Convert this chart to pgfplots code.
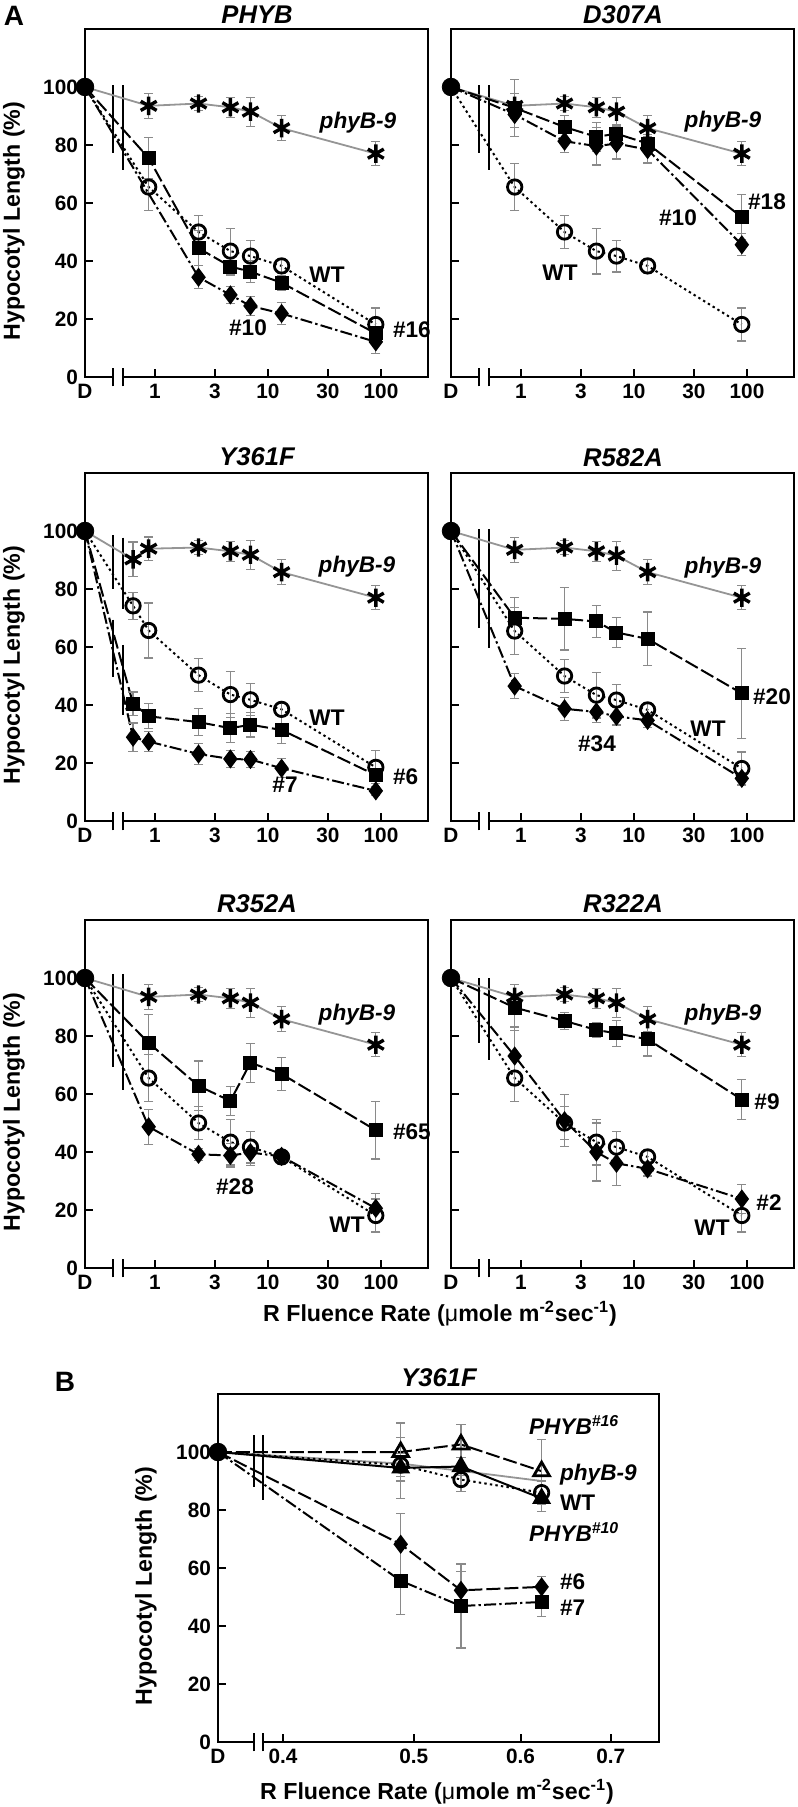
\documentclass[border=0pt]{standalone}
\usepackage{fontspec}
\setmainfont{Liberation Sans}
\usepackage{pgfplots}
\pgfplotsset{compat=1.18}
\usepackage{pgfplotstable}
\definecolor{eg}{HTML}{8A8A8A}
\definecolor{lg}{HTML}{959595}
\newcommand{\tfont}{\bfseries\fontsize{10.4}{11}\selectfont}
\newcommand{\afont}{\bfseries\fontsize{11.3}{13}\selectfont}
\newcommand{\lfont}{\bfseries\fontsize{11.6}{13}\selectfont}
\newcommand{\ttlfont}{\bfseries\itshape\fontsize{12.8}{14}\selectfont}

\pgfplotsset{
 myBase/.style={scale only axis, anchor=north west, height=174pt, ymin=0, ymax=120,
   ytick={0,20,40,60,80,100}, tick align=inside, xtick pos=left, ytick pos=left,
   major tick length=4pt, axis line style={line width=1pt},
   every tick/.style={black,line width=1pt}, tick label style={font=\tfont},
   /pgf/number format/assume math mode=true, clip=false},
 myEb/.style={error bars/.cd, y dir=both, y explicit,
   error bar style={eg, line width=0.6pt, solid},
   error mark options={rotate=90, eg, mark size=2.3pt, line width=0.6pt, solid}},
 myMi/.style={mark indices={2,3,4,5,6,7,8}},
 sphy/.style={lg, line width=0.9pt, mark=asterisk, mark size=4.6pt, mark options={black, line width=1.7pt, solid}, myMi},
 swt/.style={black, line width=1pt, dash pattern=on 1.2pt off 1.6pt, mark=o, mark size=3.6pt, mark options={black, fill=white, line width=1.4pt, solid}, myMi},
 ssq/.style={black, line width=1pt, dash pattern=on 7pt off 2pt, mark=square*, mark size=3pt, mark options={solid}, myMi},
 sdm/.style={black, line width=1pt, dash pattern=on 6pt off 1.6pt on 1.2pt off 1.6pt, mark=diamond*, mark size=4pt, mark options={solid}, myMi},
 sD/.style={only marks, mark=*, mark size=4.4pt, black},
}

% ---------- shared controls ----------
\pgfplotstableread{
x y e
0.2404 100 0
0.88 93.5 4.3
2.43 94.3 2.5
4.65 93.0 3.5
7.0 91.5 5.0
13.2 85.8 4.3
90 77.0 4.2
}\phyctl
\pgfplotstableread{
x y e
0.2404 100 0
0.64 90.2 6.0
0.88 93.9 4.0
2.43 94.3 2.5
4.65 93.0 3.5
7.0 91.8 5.0
13.2 85.8 4.3
90 77.0 4.2
}\phyctlY
\pgfplotstableread{
x y e
0.2404 100 0
0.88 65.5 8.0
2.43 50.0 5.7
4.65 43.4 7.9
7.0 41.7 5.5
13.2 38.3 2.5
90 18.1 5.7
}\wtctl
\pgfplotstableread{
x y e
0.2404 100 0
0.64 74.2 4.6
0.88 65.7 9.5
2.43 50.3 5.7
4.65 43.6 7.9
7.0 41.8 5.5
13.2 38.5 2.5
90 18.5 5.7
}\wtctlY
% ---------- PHYB ----------
\pgfplotstableread{
x y e
0.2404 100 0
0.88 75.5 7.0
2.43 44.4 6.0
4.65 38.1 3.0
7.0 36.3 3.8
13.2 32.5 2.5
90 15.0 2.0
}\phybsq
\pgfplotstableread{
x y e
0.2404 100 0
2.43 34.4 4.0
4.65 28.3 3.0
7.0 24.5 3.3
13.2 21.9 3.8
90 12.1 3.9
}\phybdm
% ---------- D307A ----------
\pgfplotstableread{
x y e
0.2404 100 0
0.88 92.8 9.8
2.43 86.2 4.0
4.65 82.8 5.0
7.0 83.9 3.0
13.2 80.5 3.0
90 55.1 7.7
}\dsq
\pgfplotstableread{
x y e
0.2404 100 0
0.88 90.5 4.5
2.43 81.3 3.8
4.65 79.6 6.5
7.0 80.5 5.3
13.2 78.4 4.6
90 45.6 3.8
}\ddm
% ---------- Y361F ----------
\pgfplotstableread{
x y e
0.2404 100 0
0.64 40.5 4.0
0.88 36.1 4.3
2.43 34.1 4.7
4.65 32.0 5.0
7.0 33.2 4.2
13.2 31.4 4.6
90 15.8 2.0
}\ysq
\pgfplotstableread{
x y e
0.2404 100 0
0.64 28.9 4.9
0.88 27.4 3.5
2.43 23.1 3.5
4.65 21.4 3.0
7.0 21.2 2.8
13.2 18.2 3.3
90 10.4 1.5
}\ydm
% ---------- R582A ----------
\pgfplotstableread{
x y e
0.2404 100 0
0.88 70.1 7.0
2.43 69.7 10.7
4.65 68.8 5.5
7.0 65.0 5.2
13.2 62.8 9.3
90 44.0 15.5
}\rasq
\pgfplotstableread{
x y e
0.2404 100 0
0.88 46.5 4.3
2.43 38.7 4.0
4.65 37.6 3.5
7.0 36.1 3.0
13.2 34.7 2.5
90 14.7 2.0
}\radm
% ---------- R352A ----------
\pgfplotstableread{
x y e
0.2404 100 0
0.88 77.6 9.7
2.43 62.8 8.6
4.65 57.6 4.9
7.0 70.8 6.7
13.2 66.9 5.8
90 47.5 9.9
}\rbsq
\pgfplotstableread{
x y e
0.2404 100 0
0.88 48.7 6.0
2.43 39.2 2.0
4.65 38.8 4.0
7.0 39.8 4.5
13.2 38.5 2.0
90 20.6 5.0
}\rbdm
% ---------- R322A ----------
\pgfplotstableread{
x y e
0.2404 100 0
0.88 89.8 8.0
2.43 85.2 3.0
4.65 82.1 2.5
7.0 80.9 4.4
13.2 78.9 5.8
90 58.1 6.9
}\rcsq
\pgfplotstableread{
x y e
0.2404 100 0
0.88 73.1 10.0
2.43 50.8 9.0
4.65 40.0 10.0
7.0 36.1 7.7
13.2 34.2 2.5
90 23.8 5.0
}\rcdm
% ---------- panel B ----------
\pgfplotstableread{
x y e
0.358 100 0
0.489 96.0 0
0.542 93.5 0
0.622 90.0 0
}\bphy
\pgfplotstableread{
x y e
0.358 100 0
0.489 95.5 4.0
0.542 90.5 4.0
0.622 86.0 4.0
}\bwt
\pgfplotstableread{
x y e
0.358 100 0
0.489 100.0 10.0
0.542 102.6 7.0
0.622 93.4 11.0
}\bsixteen
\pgfplotstableread{
x y e
0.358 100 0
0.489 94.5 10.5
0.542 95.0 3.0
0.622 84.0 4.5
}\bten
\pgfplotstableread{
x y e
0.358 100 0
0.489 68.2 10.5
0.542 52.3 6.5
0.622 53.5 3.5
}\bsix
\pgfplotstableread{
x y e
0.358 100 0
0.489 55.6 11.5
0.542 46.9 14.5
0.622 48.3 5.0
}\bseven

\newcommand{\axbreak}[5]{% x1 x2 ytop ybot1 ybot2
  \draw[line width=1pt] (axis cs:#1,#3) -- (axis cs:#1,#4);
  \draw[line width=1pt] (axis cs:#2,#3) -- (axis cs:#2,#5);
  \draw[white,line width=2.6pt] (axis cs:#1,0) -- (axis cs:#2,0);
  \draw[line width=1pt] (axis cs:#1,-3.2) -- (axis cs:#1,3.2);
  \draw[line width=1pt] (axis cs:#2,-3.2) -- (axis cs:#2,3.2);
}

\begin{document}
\begin{tikzpicture}
\path[use as bounding box] (0,0) rectangle (398.5pt,-903.5pt);

% ===== PHYB =====
\begin{axis}[myBase, xmode=log, width=171.5pt, xmin=0.2404, xmax=260.6,
   xtick={0.2404,1,3.39,10,33.9,100}, xticklabels={D,1,3,10,30,100}, minor xtick={}, at={(42.5pt,-14.5pt)}]
\axbreak{0.425}{0.521}{100.6}{77.4}{71.5}
\addplot[sphy, myEb] table[x=x,y=y,y error=e]{\phyctl};
\addplot[swt, myEb] table[x=x,y=y,y error=e]{\wtctl};
\addplot[ssq, myEb] table[x=x,y=y,y error=e]{\phybsq};
\addplot[sdm, myEb] table[x=x,y=y,y error=e]{\phybdm};
\addplot[sD] coordinates {(0.2404,100)};
\end{axis}

% ===== D307A =====
\begin{axis}[myBase, xmode=log, width=171.5pt, xmin=0.2404, xmax=260.6,
   xtick={0.2404,1,3.39,10,33.9,100}, xticklabels={D,1,3,10,30,100}, yticklabels={}, minor xtick={}, at={(225.5pt,-14.5pt)}]
\axbreak{0.425}{0.521}{100.6}{77.4}{71.5}
\addplot[sphy, myEb] table[x=x,y=y,y error=e]{\phyctl};
\addplot[swt, myEb] table[x=x,y=y,y error=e]{\wtctl};
\addplot[ssq, myEb] table[x=x,y=y,y error=e]{\dsq};
\addplot[sdm, myEb] table[x=x,y=y,y error=e]{\ddm};
\addplot[sD] coordinates {(0.2404,100)};
\end{axis}

% ===== Y361F =====
\begin{axis}[myBase, xmode=log, width=171.5pt, xmin=0.2404, xmax=260.6,
   xtick={0.2404,1,3.39,10,33.9,100}, xticklabels={D,1,3,10,30,100}, minor xtick={}, at={(42.5pt,-236.5pt)}]
\draw[line width=1pt] (axis cs:0.425,98.6) -- (axis cs:0.425,80.1);
\draw[line width=1pt] (axis cs:0.425,69.4) -- (axis cs:0.425,49.7);
\draw[line width=1pt] (axis cs:0.521,97.7) -- (axis cs:0.521,73.2);
\draw[line width=1pt] (axis cs:0.521,60.7) -- (axis cs:0.521,36.4);
\draw[white,line width=2.6pt] (axis cs:0.425,0) -- (axis cs:0.521,0);
\draw[line width=1pt] (axis cs:0.425,-3.2) -- (axis cs:0.425,3.2);
\draw[line width=1pt] (axis cs:0.521,-3.2) -- (axis cs:0.521,3.2);
\addplot[sphy, myEb] table[x=x,y=y,y error=e]{\phyctlY};
\addplot[swt, myEb] table[x=x,y=y,y error=e]{\wtctlY};
\addplot[ssq, myEb] table[x=x,y=y,y error=e]{\ysq};
\addplot[sdm, myEb] table[x=x,y=y,y error=e]{\ydm};
\addplot[sD] coordinates {(0.2404,100)};
\end{axis}

% ===== R582A =====
\begin{axis}[myBase, xmode=log, width=171.5pt, xmin=0.2404, xmax=260.6,
   xtick={0.2404,1,3.39,10,33.9,100}, xticklabels={D,1,3,10,30,100}, yticklabels={}, minor xtick={}, at={(225.5pt,-236.5pt)}]
\axbreak{0.425}{0.521}{100.6}{66.7}{59.8}
\addplot[sphy, myEb] table[x=x,y=y,y error=e]{\phyctl};
\addplot[swt, myEb] table[x=x,y=y,y error=e]{\wtctl};
\addplot[ssq, myEb] table[x=x,y=y,y error=e]{\rasq};
\addplot[sdm, myEb] table[x=x,y=y,y error=e]{\radm};
\addplot[sD] coordinates {(0.2404,100)};
\end{axis}

% ===== R352A =====
\begin{axis}[myBase, xmode=log, width=171.5pt, xmin=0.2404, xmax=260.6,
   xtick={0.2404,1,3.39,10,33.9,100}, xticklabels={D,1,3,10,30,100}, minor xtick={}, at={(42.5pt,-460pt)}]
\axbreak{0.425}{0.521}{101.4}{69.4}{61.3}
\addplot[sphy, myEb] table[x=x,y=y,y error=e]{\phyctl};
\addplot[swt, myEb] table[x=x,y=y,y error=e]{\wtctl};
\addplot[ssq, myEb] table[x=x,y=y,y error=e]{\rbsq};
\addplot[sdm, myEb] table[x=x,y=y,y error=e]{\rbdm};
\addplot[sD] coordinates {(0.2404,100)};
\end{axis}

% ===== R322A =====
\begin{axis}[myBase, xmode=log, width=171.5pt, xmin=0.2404, xmax=260.6,
   xtick={0.2404,1,3.39,10,33.9,100}, xticklabels={D,1,3,10,30,100}, yticklabels={}, minor xtick={}, at={(225.5pt,-460pt)}]
\axbreak{0.425}{0.521}{100}{77.7}{71.9}
\addplot[sphy, myEb] table[x=x,y=y,y error=e]{\phyctl};
\addplot[swt, myEb] table[x=x,y=y,y error=e]{\wtctl};
\addplot[ssq, myEb] table[x=x,y=y,y error=e]{\rcsq};
\addplot[sdm, myEb] table[x=x,y=y,y error=e]{\rcdm};
\addplot[sD] coordinates {(0.2404,100)};
\end{axis}

% ===== B =====
\begin{axis}[myBase, xmode=log, width=220.5pt, xmin=0.358, xmax=0.760,
   xtick={0.358,0.4,0.5,0.6,0.7}, xticklabels={D,0.4,0.5,0.6,0.7}, minor xtick={}, at={(109pt,-697pt)}]
\axbreak{0.381}{0.3865}{105.8}{88}{83.3}
\addplot[lg, line width=0.9pt] table[x=x,y=y]{\bphy};
\addplot[swt, myEb] table[x=x,y=y,y error=e]{\bwt};
\addplot[black, line width=1pt, dash pattern=on 7pt off 2pt, mark=triangle, mark size=4.5pt, mark options={solid, fill=white, line width=1.4pt}, myMi, myEb] table[x=x,y=y,y error=e]{\bsixteen};
\addplot[black, line width=1pt, mark=triangle*, mark size=4.5pt, mark options={solid}, myMi, myEb] table[x=x,y=y,y error=e]{\bten};
\addplot[black, line width=1pt, dash pattern=on 7pt off 2pt, mark=diamond*, mark size=4pt, mark options={solid}, myMi, myEb] table[x=x,y=y,y error=e]{\bsix};
\addplot[black, line width=1pt, dash pattern=on 6pt off 1.6pt on 1.2pt off 1.6pt, mark=square*, mark size=3pt, mark options={solid}, myMi, myEb] table[x=x,y=y,y error=e]{\bseven};
\addplot[sD] coordinates {(0.358,100)};
\end{axis}

% ===== text =====
\begin{scope}[x=0.5pt,y=-0.5pt]
\node[font=\bfseries\fontsize{14}{16}\selectfont] at (14,16) {A};
\node[font=\bfseries\fontsize{14}{16}\selectfont] at (65,1382) {B};
\node[font=\ttlfont] at (257,15) {PHYB};
\node[font=\ttlfont] at (623,15) {D307A};
\node[font=\ttlfont] at (257,457) {Y361F};
\node[font=\ttlfont] at (623,458) {R582A};
\node[font=\ttlfont] at (257,904) {R352A};
\node[font=\ttlfont] at (623,904) {R322A};
\node[font=\ttlfont] at (439,1378) {Y361F};
\node[font=\lfont, rotate=90] at (14,221) {Hypocotyl Length (\%)};
\node[font=\lfont, rotate=90] at (14,665) {Hypocotyl Length (\%)};
\node[font=\lfont, rotate=90] at (14,1112) {Hypocotyl Length (\%)};
\node[font=\lfont, rotate=90] at (146,1586) {Hypocotyl Length (\%)};
\node[font=\lfont] at (440,1314) {R Fluence Rate ({\mdseries μ}mole m\textsuperscript{-2}sec\textsuperscript{-1})};
\node[font=\lfont] at (437,1792) {R Fluence Rate ({\mdseries μ}mole m\textsuperscript{-2}sec\textsuperscript{-1})};
\node[font=\afont\itshape] at (358,123) {phyB-9};
\node[font=\afont] at (327,275) {WT};
\node[font=\afont] at (248,328) {\#10};
\node[font=\afont, anchor=west] at (386,330) {\#16};
\node[font=\afont\itshape] at (723,122) {phyB-9};
\node[font=\afont] at (767,202) {\#18};
\node[font=\afont] at (678,218) {\#10};
\node[font=\afont] at (560,273) {WT};
\node[font=\afont\itshape] at (357,567) {phyB-9};
\node[font=\afont] at (327,718) {WT};
\node[font=\afont] at (285,785) {\#7};
\node[font=\afont, anchor=west] at (386,777) {\#6};
\node[font=\afont\itshape] at (723,568) {phyB-9};
\node[font=\afont] at (772,697) {\#20};
\node[font=\afont] at (708,729) {WT};
\node[font=\afont] at (597,744) {\#34};
\node[font=\afont\itshape] at (357,1015) {phyB-9};
\node[font=\afont, anchor=west] at (386,1132) {\#65};
\node[font=\afont] at (235,1187) {\#28};
\node[font=\afont] at (347,1225) {WT};
\node[font=\afont\itshape] at (723,1015) {phyB-9};
\node[font=\afont] at (767,1102) {\#9};
\node[font=\afont] at (769,1203) {\#2};
\node[font=\afont] at (712,1228) {WT};
\node[font=\afont\itshape, anchor=west] at (522,1425) {PHYB\textsuperscript{\#16}};
\node[font=\afont\itshape, anchor=west] at (553,1475) {phyB-9};
\node[font=\afont, anchor=west] at (553,1503) {WT};
\node[font=\afont\itshape, anchor=west] at (522,1532) {PHYB\textsuperscript{\#10}};
\node[font=\afont, anchor=west] at (553,1582) {\#6};
\node[font=\afont, anchor=west] at (553,1608) {\#7};
\end{scope}
\end{tikzpicture}
\end{document}
